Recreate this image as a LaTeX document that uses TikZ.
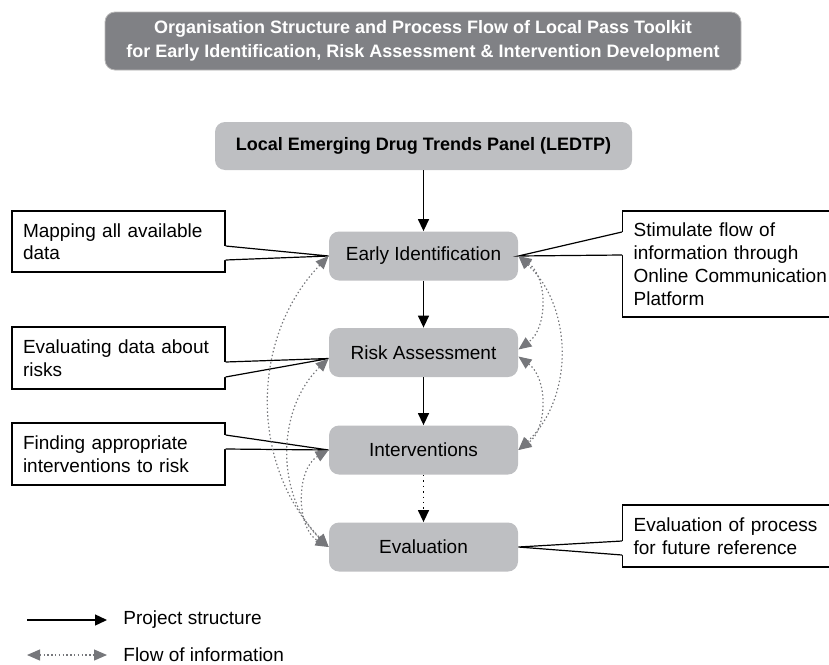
\documentclass[tikz,border=0pt]{standalone}
\usepackage{fontspec}
\setmainfont{Liberation Sans}
\usetikzlibrary{calc,positioning,arrows.meta}

\definecolor{headgray}{RGB}{128,129,133}
\definecolor{boxgray}{RGB}{190,191,194}
\definecolor{flowgray}{RGB}{118,119,123}

\tikzset{
  heading/.style={fill=headgray, draw=gray!55, rounded corners=5pt, minimum width=318pt, minimum height=29pt,
    text=white, align=center, font=\bfseries\fontsize{9}{12.3}\selectfont},
  panel/.style={fill=boxgray, rounded corners=5pt, minimum width=208.5pt, minimum height=24pt,
    font=\bfseries\fontsize{9}{11}\selectfont},
  stage/.style={fill=boxgray, rounded corners=5pt, minimum width=94.5pt, minimum height=24.5pt,
    font=\fontsize{9.5}{11.25}\selectfont},
  note/.style={draw, line width=0.6pt, align=left, inner xsep=5.5pt, font=\fontsize{9.5}{11.25}\selectfont},
  pointer/.style={line width=0.6pt, line join=miter},
  struct/.style={-{Triangle[length=6pt,width=5.5pt]}, line width=0.7pt},
  flow/.style={{Triangle[length=6.5pt,width=5.5pt]}-{Triangle[length=6.5pt,width=5.5pt]}, flowgray,
    dash pattern=on 0.7pt off 1.2pt, line width=0.6pt},
}

\begin{document}
\begin{tikzpicture}[x=0.5pt,y=-0.5pt]
\useasboundingbox (0,0) rectangle (829,664);
\clip (0,0) rectangle (829,664);

% heading
\node[heading] at (423,41) (title) {Organisation Structure and Process Flow of Local Pass Toolkit\\for Early Identification, Risk Assessment \& Intervention Development};

% panel and stages
\node[panel] at (423.5,146) (ledtp) {Local Emerging Drug Trends Panel (LEDTP)};
\node[stage] at (423.5,256) (early) {Early Identification};
\node[stage] at (423.5,352.5) (risk) {Risk Assessment};
\node[stage] at (423.5,450) (interv) {Interventions};
\node[stage] at (423.5,547) (eval) {Evaluation};

% notes
\node[note, text width=95.5pt, minimum height=30.5pt] at (118.5,241.5) (map) {Mapping all available\\data};
\node[note, text width=95.5pt, minimum height=31pt] at (118.5,358) (evaldata) {Evaluating data about\\risks};
\node[note, text width=95.5pt, minimum height=31pt] at (118.5,454) (findint) {Finding appropriate\\interventions to risk};
\node[note, text width=108pt, minimum height=53pt, anchor=west, font=\fontsize{9.5}{11.5}\selectfont] at (622,264) (stim) {Stimulate flow of\\information through\\Online Communication\\Platform};
\node[note, text width=108pt, minimum height=31pt, anchor=west] at (622,536) (evalproc) {Evaluation of process\\for future reference};

% pointers of the notes
\coordinate (mapA) at ($(map.east)+(0,4.5)$);
\coordinate (mapB) at ($(map.east)+(0,18.5)$);
\coordinate (edA) at ($(evaldata.east)+(0,4)$);
\coordinate (edB) at ($(evaldata.east)+(0,19)$);
\coordinate (fiA) at ($(findint.east)+(0,-19)$);
\coordinate (fiB) at ($(findint.east)+(0,-5)$);
\coordinate (stA) at ($(stim.west)+(0,-32)$);
\coordinate (stB) at ($(stim.west)+(0,-9)$);
\coordinate (epA) at ($(evalproc.west)+(0,5)$);
\coordinate (epB) at ($(evalproc.west)+(0,19)$);
\coordinate (riskin) at ($(risk.west)+(0,6)$);

\fill[white] (mapA) -- (early.west) -- (mapB) -- ++(-3,0) -- ($(mapA)+(-3,0)$) -- cycle;
\draw[pointer] (mapA) -- (early.west) -- (mapB);
\fill[white] (edA) -- (riskin) -- (edB) -- ++(-3,0) -- ($(edA)+(-3,0)$) -- cycle;
\draw[pointer] (edA) -- (riskin) -- (edB);
\fill[white] (fiA) -- (interv.west) -- (fiB) -- ++(-3,0) -- ($(fiA)+(-3,0)$) -- cycle;
\draw[pointer] (fiA) -- (interv.west) -- (fiB);
\fill[white] (stA) -- (early.east) -- (stB) -- ++(3,0) -- ($(stA)+(3,0)$) -- cycle;
\draw[pointer] (stA) -- (early.east) -- (stB);
\fill[white] (epA) -- (eval.east) -- (epB) -- ++(3,0) -- ($(epA)+(3,0)$) -- cycle;
\draw[pointer] (epA) -- (eval.east) -- (epB);

% project structure
\draw[struct] (ledtp) -- (early);
\draw[struct] (early) -- (risk);
\draw[struct] (risk) -- (interv);
\draw[struct, dotted] (interv) -- (eval);

% flow of information, left
\draw[flow] (early.west) to[bend right=44] (eval.west);
\draw[flow] (riskin) to[bend right=46] (eval.west);
\draw[flow] (interv.west) to[bend right=60] (eval.west);
% flow of information, right
\draw[flow] (early.east) to[bend left=54] ($(risk.east)+(0,-3)$);
\draw[flow] ($(risk.east)+(0,4)$) to[bend left=54] (interv.east);
\draw[flow] (early.east) to[bend left=47] (interv.east);

% legend
\coordinate (psA) at (27,620);
\coordinate (psB) at (107,620);
\node[anchor=west, font=\fontsize{9.5}{11}\selectfont, inner sep=0pt] at (123,620) (pslabel) {Project structure};
\draw[struct] (psA) -- (psB);
\coordinate (fiLA) at (27,655);
\coordinate (fiLB) at (107,655);
\node[anchor=west, font=\fontsize{9.5}{11}\selectfont, inner sep=0pt] at (123,655) (filabel) {Flow of information};
\draw[flow] (fiLA) -- (fiLB);
\end{tikzpicture}
\end{document}
